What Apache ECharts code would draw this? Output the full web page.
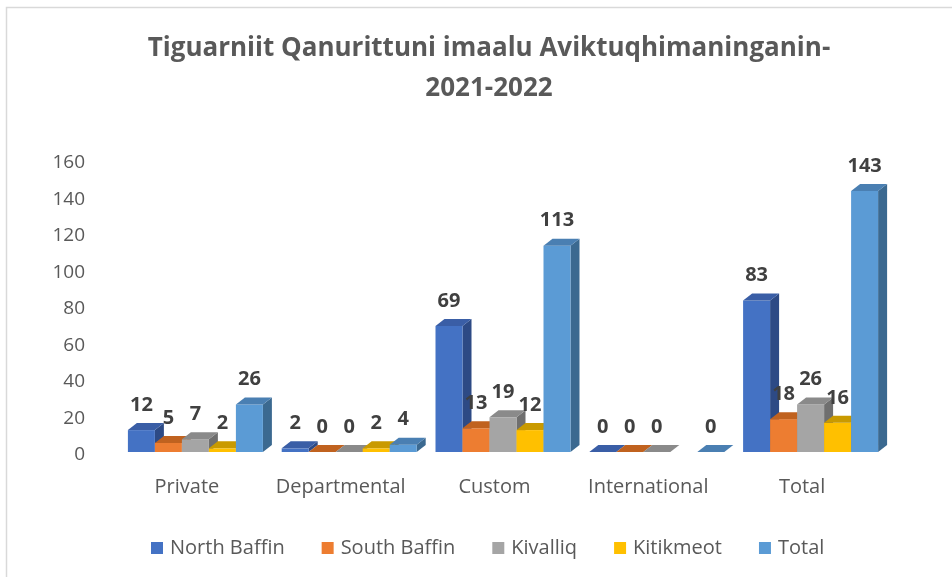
<!DOCTYPE html>
<html>
<head>
<meta charset="utf-8">
<script src="https://cdn.jsdelivr.net/npm/echarts@6/dist/echarts.min.js"></script>
<style>
  html, body { margin: 0; padding: 0; background: #ffffff; }
  #chart { width: 952px; height: 577px; }
</style>
</head>
<body>
<div id="chart"></div>
<script>
const categories = ['Private', 'Departmental', 'Custom', 'International', 'Total']
const seriesNames = ['North Baffin', 'South Baffin', 'Kivalliq', 'Kitikmeot', 'Total']
const northBaffin = [12, 2, 69, 0, 83]
const southBaffin = [5, 0, 13, 0, 18]
const kivalliq = [7, 0, 19, 0, 26]
const kitikmeot = [2, 2, 12, null, 16]
const total = [26, 4, 113, 0, 143]
const yTicks = [0, 20, 40, 60, 80, 100, 120, 140, 160]

const seriesData = [northBaffin, southBaffin, kivalliq, kitikmeot, total]

// front / top / side colours for the fake 3d bars
const palette = [
  { front: '#4472C4', top: '#3A5EA6', side: '#2D4A85' },
  { front: '#ED7D31', top: '#C0621F', side: '#A5541A' },
  { front: '#A5A5A5', top: '#8A8A8A', side: '#6F6F6F' },
  { front: '#FFC000', top: '#C99A00', side: '#A88000' },
  { front: '#5B9BD5', top: '#4A7FB2', side: '#3B6990' }
]

const FONT = '"Open Sans"'
const BAR_W = 27
const GROUP_OFFSET = -59
const DEPTH_X = 9
const DEPTH_Y = -7
const FLOOR = -3

const chart = echarts.init(document.getElementById('chart'))

function makeRender(sIdx) {
  return function (params, api) {
    const v = api.value(1)
    if (v == null || isNaN(v)) return
    const base = api.coord([api.value(0), 0])
    const topPt = api.coord([api.value(0), v])
    const x0 = base[0] + GROUP_OFFSET + sIdx * BAR_W
    const x1 = x0 + BAR_W
    const yb = base[1] + FLOOR
    const yt = topPt[1] + FLOOR
    const c = palette[sIdx]
    return {
      type: 'group',
      children: [
        {
          type: 'polygon',
          shape: { points: [[x1, yb], [x1 + DEPTH_X, yb + DEPTH_Y], [x1 + DEPTH_X, yt + DEPTH_Y], [x1, yt]] },
          style: { fill: c.side }
        },
        {
          type: 'rect',
          shape: { x: x0, y: yt, width: BAR_W, height: yb - yt },
          style: { fill: c.front }
        },
        {
          type: 'polygon',
          shape: { points: [[x0, yt], [x1, yt], [x1 + DEPTH_X, yt + DEPTH_Y], [x0 + DEPTH_X, yt + DEPTH_Y]] },
          style: { fill: c.top }
        },
        {
          type: 'text',
          x: x0 + BAR_W / 2,
          y: yt - 25,
          style: {
            text: String(v),
            fill: '#404040',
            font: 'bold 20px ' + FONT,
            align: 'center',
            verticalAlign: 'middle'
          }
        }
      ]
    }
  }
}

// later series drawn over earlier ones' side faces
const series = seriesNames.map((name, i) => ({
  name: name,
  type: 'custom',
  renderItem: makeRender(i),
  encode: { x: 0, y: 1 },
  data: seriesData[i].map((v, j) => [j, v]),
  itemStyle: { color: palette[i].front },
  z: 2 + i
}))

const option = {
  backgroundColor: '#ffffff',
  animation: false,
  title: {
    text: 'Tiguarniit Qanurittuni imaalu Aviktuqhimaninganin-\n2021-2022',
    left: 484,
    top: 24,
    textAlign: 'center',
    textStyle: {
      fontFamily: FONT,
      fontSize: 26,
      fontWeight: 'bold',
      color: '#595959',
      lineHeight: 40
    }
  },
  legend: {
    data: seriesNames,
    left: 146,
    top: 533,
    itemWidth: 12,
    itemHeight: 12,
    itemGap: 37,
    icon: 'rect',
    textStyle: { fontFamily: FONT, fontSize: 20, color: '#595959', padding: [0, 0, 0, 2] }
  },
  grid: {
    left: 110,
    width: 769,
    top: 163,
    height: 292
  },
  xAxis: {
    type: 'category',
    data: categories,
    axisLine: { show: false },
    axisTick: { show: false },
    axisLabel: { interval: 0, fontFamily: FONT, fontSize: 20, color: '#595959', margin: 22 }
  },
  yAxis: {
    type: 'value',
    min: yTicks[0],
    max: yTicks[yTicks.length - 1],
    interval: 20,
    axisLine: { show: false },
    axisTick: { show: false },
    splitLine: { show: false },
    axisLabel: { fontFamily: FONT, fontSize: 19, color: '#595959', margin: 25 }
  },
  graphic: [
    {
      type: 'polyline',
      shape: { points: [[6.5, 577], [6.5, 7.5], [952, 7.5]] },
      style: { stroke: '#D9D9D9', lineWidth: 1.5, fill: null }
    }
  ],
  series: series
}

chart.setOption(option)
</script>
</body>
</html>
